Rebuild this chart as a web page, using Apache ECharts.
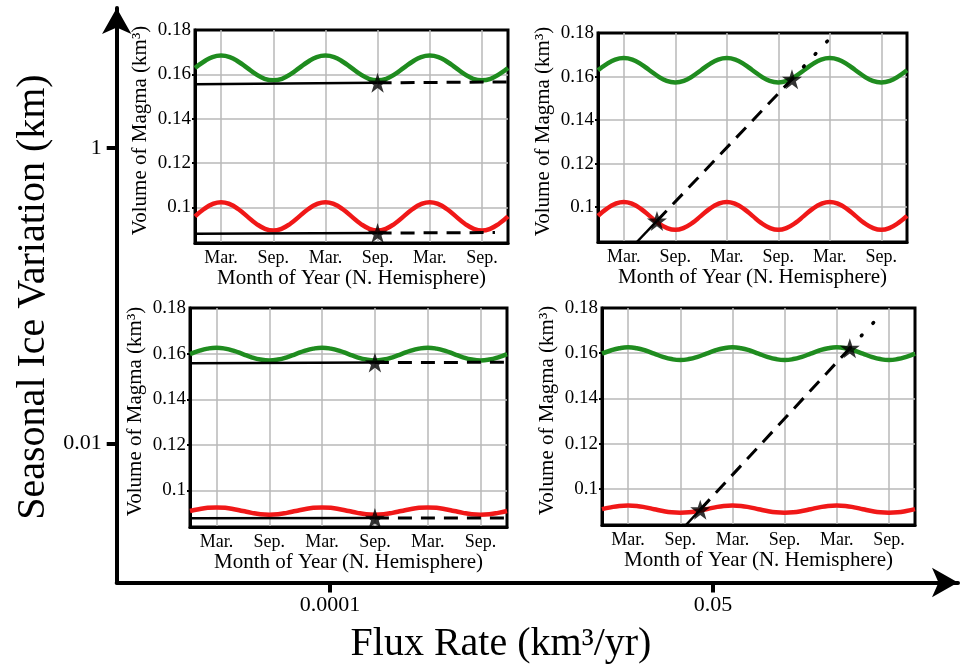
<!DOCTYPE html>
<html><head><meta charset="utf-8">
<script src="https://cdn.jsdelivr.net/npm/echarts@6/dist/echarts.min.js"></script>
<style>html,body{margin:0;padding:0;background:#fff}#c{width:960px;height:664px}</style>
</head><body><div id="c"></div>
<script>
// ---------- data ----------
const months = [0,1,2,3,4,5,6,7,8,9,10,11,12,13,14,15,16,17,18,19,20,21,22,23,24,25,26,27,28,29,30,31,32,33,34,35,36];
const monthTickValues = [3,9,15,21,27,33];
const monthTickLabels = ['Mar.','Sep.','Mar.','Sep.','Mar.','Sep.'];
const volumeTicks = [0.1,0.12,0.14,0.16,0.18];
const fluxTicks = [0.0001, 0.05];
const fluxTickLabels = ['0.0001','0.05'];
const iceTicks = [1, 0.01];
const iceTickLabels = ['1','0.01'];

// seasonal magma volume curves (km^3), monthly samples
const topGreen = [0.1629,0.1657,0.1678,0.1685,0.1678,0.1657,0.1629,0.1601,0.1580,0.1573,0.1580,0.1601,
  0.1629,0.1657,0.1678,0.1685,0.1678,0.1657,0.1629,0.1601,0.1580,0.1573,0.1580,0.1601,
  0.1629,0.1657,0.1678,0.1685,0.1678,0.1657,0.1629,0.1601,0.1580,0.1573,0.1580,0.1601,0.1629];
const topRed = [0.0960,0.0992,0.1015,0.1024,0.1015,0.0992,0.0960,0.0928,0.0905,0.0896,0.0905,0.0928,
  0.0960,0.0992,0.1015,0.1024,0.1015,0.0992,0.0960,0.0928,0.0905,0.0896,0.0905,0.0928,
  0.0960,0.0992,0.1015,0.1024,0.1015,0.0992,0.0960,0.0928,0.0905,0.0896,0.0905,0.0928,0.0960];
const bottomGreen = [0.1598,0.1612,0.1622,0.1626,0.1622,0.1612,0.1598,0.1584,0.1574,0.1570,0.1574,0.1584,
  0.1598,0.1612,0.1622,0.1626,0.1622,0.1612,0.1598,0.1584,0.1574,0.1570,0.1574,0.1584,
  0.1598,0.1612,0.1622,0.1626,0.1622,0.1612,0.1598,0.1584,0.1574,0.1570,0.1574,0.1584,0.1598];
const bottomRed = [0.0910,0.0918,0.0924,0.0926,0.0924,0.0918,0.0910,0.0902,0.0896,0.0894,0.0896,0.0902,
  0.0910,0.0918,0.0924,0.0926,0.0924,0.0918,0.0910,0.0902,0.0896,0.0894,0.0896,0.0902,
  0.0910,0.0918,0.0924,0.0926,0.0924,0.0918,0.0910,0.0902,0.0896,0.0894,0.0896,0.0902,0.0910];

// magma supply lines [month, volume]
const p1UpperSolid = [[0,0.1556],[21,0.1562]];
const p1UpperDashed = [[21,0.1562],[36,0.1566]];
const p1LowerSolid = [[0,0.0882],[21,0.0885]];
const p1LowerDashed = [[21,0.0885],[34.5,0.0887]];
const p1Stars = [[21,0.1562],[21,0.0885]];

const p2Solid = [[4.53,0.084],[6.87,0.0937]];
const p2Dashed = [[6.87,0.0937],[22.6,0.1588]];
const p2Dotted = [[22.6,0.1588],[27.6,0.18]];
const p2Stars = [[6.87,0.0937],[22.6,0.1588]];

const p3UpperSolid = [[0,0.1558],[21,0.1561]];
const p3UpperDashed = [[21,0.1561],[36,0.1562]];
const p3LowerSolid = [[0,0.0878],[21,0.0879]];
const p3LowerDashed = [[21,0.0879],[36,0.0880]];
const p3Stars = [[21,0.1561],[21,0.0879]];

const p4Solid = [[9.66,0.084],[11.3,0.0908]];
const p4Dashed = [[11.3,0.0908],[28.5,0.1622]];
const p4Dotted = [[28.5,0.1622],[31.8,0.1759]];
const p4Stars = [[11.3,0.0908],[28.5,0.1622]];

// ---------- chart ----------
const FONT = '"Liberation Serif", "Times New Roman", serif';
const GREEN = '#1f8c1f', RED = '#f01818';
const starPath = 'path://M50,0L61.8,35.4L99,35.4L68.9,57.3L80.4,92.7L50,70.8L19.6,92.7L31.1,57.3L1,35.4L38.2,35.4Z';

const panels = [
  {box:{left:195,top:30,width:313,height:213}, green:topGreen, red:topRed,
   solid:[p1UpperSolid,p1LowerSolid], dashed:[p1UpperDashed,p1LowerDashed], dotted:[], stars:p1Stars},
  {box:{left:598,top:33,width:309,height:209}, green:topGreen, red:topRed,
   solid:[p2Solid], dashed:[p2Dashed], dotted:[p2Dotted], stars:p2Stars},
  {box:{left:190,top:308,width:317,height:219}, green:bottomGreen, red:bottomRed,
   solid:[p3UpperSolid,p3LowerSolid], dashed:[p3UpperDashed,p3LowerDashed], dotted:[], stars:p3Stars},
  {box:{left:602,top:308,width:313,height:217}, green:bottomGreen, red:bottomRed,
   solid:[p4Solid], dashed:[p4Dashed], dotted:[p4Dotted], stars:p4Stars}
];

// grid lines only at interior ticks (the top tick coincides with the frame)
const volumeGridTicks = volumeTicks.filter(v => v < 0.18);

const grid = [], xAxis = [], yAxis = [], series = [];

panels.forEach((p, i) => {
  grid.push(Object.assign({show:true, borderColor:'#000', borderWidth:3, backgroundColor:'#fff', z:2}, p.box));
  xAxis.push({
    gridIndex:i, type:'value', min:0, max:36, z:3,
    axisLine:{show:true, onZero:false, lineStyle:{color:'#000', width:3}},
    axisTick:{show:false, customValues:monthTickValues},
    axisLabel:{customValues:monthTickValues, formatter:v => monthTickLabels[monthTickValues.indexOf(v)],
      fontFamily:FONT, fontSize:18, color:'#000', margin:6},
    splitLine:{show:true, lineStyle:{color:'#b8b8b8', width:1.5}},
    name:'Month of Year (N. Hemisphere)', nameLocation:'middle', nameGap:23,
    nameTextStyle:{fontFamily:FONT, fontSize:21, color:'#000'}
  });
  yAxis.push({
    gridIndex:i, type:'value', min:0.084, max:0.18, z:3,
    axisLine:{show:true, onZero:false, lineStyle:{color:'#000', width:3}},
    axisTick:{show:true, length:3, customValues:volumeGridTicks, lineStyle:{color:'#000', width:2}},
    axisLabel:{customValues:volumeTicks, fontFamily:FONT, fontSize:19, color:'#000', margin:4},
    splitLine:{show:true, lineStyle:{color:'#b8b8b8', width:1.5}},
    name:'Volume of Magma (km³)', nameLocation:'middle', nameGap:44,
    nameTextStyle:{fontFamily:FONT, fontSize:21, color:'#000', padding:[0,0,0,12]}
  });
  const base = {xAxisIndex:i, yAxisIndex:i, showSymbol:false, symbol:'none', silent:true, z:4};
  series.push(Object.assign({}, base, {type:'line', smooth:0.5, data:months.map((m,k)=>[m,p.green[k]]),
    lineStyle:{color:GREEN, width:4.5}}));
  series.push(Object.assign({}, base, {type:'line', smooth:0.5, data:months.map((m,k)=>[m,p.red[k]]),
    lineStyle:{color:RED, width:4.5}}));
  p.solid.forEach(d => series.push(Object.assign({}, base, {type:'line', data:d, z:5,
    lineStyle:{color:'#000', width:2.5}})));
  p.dashed.forEach(d => series.push(Object.assign({}, base, {type:'line', data:d, z:5,
    lineStyle:{color:'#000', width:3, type:[14,9]}})));
  p.dotted.forEach(d => series.push(Object.assign({}, base, {type:'line', data:d, z:5,
    lineStyle:{color:'#000', width:3.5, type:[1,16], cap:'round'}})));
  series.push({type:'scatter', xAxisIndex:i, yAxisIndex:i, data:p.stars, symbol:starPath, symbolSize:20,
    itemStyle:{color:'#000'}, silent:true, z:6});
});

// outer axes (log10 space)
const fluxPos = fluxTicks.map(v => Math.log10(v));
const icePos = iceTicks.map(v => Math.log10(v));
const nearestLabel = (pos, labels, v) => {
  let best = 0;
  pos.forEach((p, k) => { if (Math.abs(p - v) < Math.abs(pos[best] - v)) best = k; });
  return labels[best];
};
grid.push({left:116.7, right:2, top:8, bottom:81.5, show:false, z:1});
xAxis.push({
  gridIndex:4, type:'value', min:-5.503, max:0.4256, z:1,
  axisLine:{show:true, onZero:false, lineStyle:{color:'#000', width:4}, symbol:['none','arrow'], symbolSize:[22,26]},
  axisTick:{show:true, customValues:fluxPos, length:10, lineStyle:{color:'#000', width:4}},
  axisLabel:{customValues:fluxPos, formatter:v => nearestLabel(fluxPos, fluxTickLabels, v),
    fontFamily:FONT, fontSize:22, color:'#000', margin:12},
  splitLine:{show:false}
});
yAxis.push({
  gridIndex:4, type:'value', min:-2.943, max:0.948, z:1,
  axisLine:{show:true, onZero:false, lineStyle:{color:'#000', width:4}, symbol:['none','arrow'], symbolSize:[22,26]},
  axisTick:{show:true, customValues:icePos, length:10, lineStyle:{color:'#000', width:4}},
  axisLabel:{customValues:icePos, formatter:v => nearestLabel(icePos, iceTickLabels, v),
    fontFamily:FONT, fontSize:22, color:'#000', margin:15},
  splitLine:{show:false}
});

const chart = echarts.init(document.getElementById('c'), null, {renderer:'canvas'});
chart.setOption({
  animation:false,
  backgroundColor:'#fff',
  grid, xAxis, yAxis, series,
  graphic:[
    {type:'text', x:33, y:297, rotation:Math.PI/2, silent:true,
     style:{text:'Seasonal Ice Variation (km)', font:'40px ' + FONT, fill:'#000', align:'center', verticalAlign:'middle'}},
    {type:'text', x:501, y:644, silent:true,
     style:{text:'Flux Rate (km³/yr)', font:'40px ' + FONT, fill:'#000', align:'center', verticalAlign:'middle'}}
  ]
});
</script>
</body></html>
